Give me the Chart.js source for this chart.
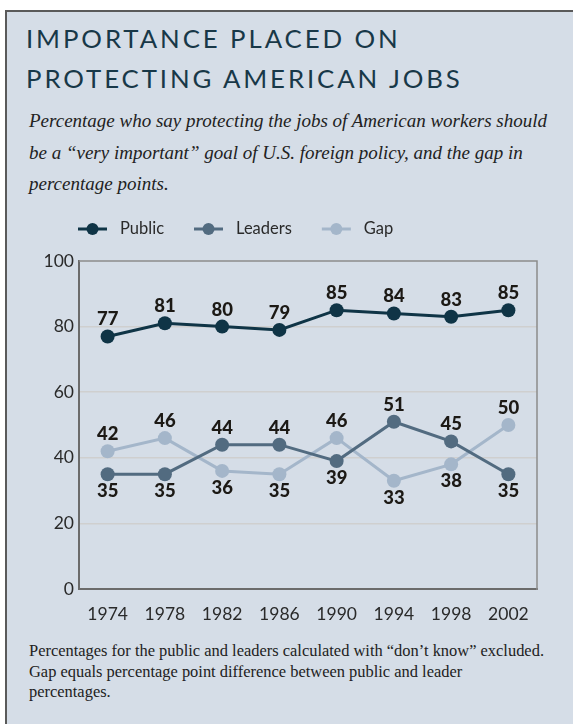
<!DOCTYPE html>
<html>
<head>
<meta charset="utf-8">
<script src="https://cdn.jsdelivr.net/npm/chart.js@4.4.1/dist/chart.umd.min.js"></script>
<style>
  html, body { margin: 0; padding: 0; background: #fff; width: 573px; height: 724px; overflow: hidden; }
  #frame { position: absolute; left: 5px; top: 10px; width: 580px; height: 730px; background: #d5dde7;
           border-top: 2px solid #5a5a5a; border-left: 2px solid #5a5a5a; }
  .title { position: absolute; left: 26px; top: 18px; font-family: Lato, sans-serif; font-weight: 400;
           font-size: 25.8px; letter-spacing: 2.9px; line-height: 40px; color: #183848; white-space: nowrap; }
  .sub { position: absolute; left: 29px; top: 105px; width: 540px; font-family: "Liberation Serif", serif;
         font-style: italic; font-size: 19px; line-height: 31.5px; color: #222; }
  .note { position: absolute; left: 29px; top: 641px; width: 540px; font-family: "Liberation Serif", serif;
          font-size: 16.45px; line-height: 20.5px; color: #222; white-space: nowrap; }
  #wrap { position: absolute; left: 0; top: 205px; width: 573px; height: 425px; }
</style>
</head>
<body>
<div id="frame"></div>
<div class="title">IMPORTANCE PLACED ON<br>PROTECTING AMERICAN JOBS</div>
<div class="sub">Percentage who say protecting the jobs of American workers should be a “very important” goal of U.S. foreign policy, and the gap in percentage points.</div>
<div class="note">Percentages for the public and leaders calculated with “don’t know” excluded.<br>Gap equals percentage point difference between public and leader<br>percentages.</div>
<div id="wrap"><canvas id="chart" width="573" height="425"></canvas></div>

<script>
"use strict";

// values
const years      = ["1974", "1978", "1982", "1986", "1990", "1994", "1998", "2002"];
const publicPct  = [77, 81, 80, 79, 85, 84, 83, 85];
const leadersPct = [35, 35, 44, 44, 39, 51, 45, 35];
const gapPts     = [42, 46, 36, 35, 46, 33, 38, 50];
const seriesNames = ["Public", "Leaders", "Gap"];

const C = {
  pub:   "#0f3446",
  lead:  "#526b80",
  gap:   "#a4b6ca",
  grid:  "#cfcfcf",
  axis:  "#6b6b6b",
  frame: "#8c8c8c",
  text:  "#2a2a2a",
  label: "#1c1915",
};

const SANS = "Lato, 'Open Sans', sans-serif";

// Public labels sit above; for the two lower lines the larger one goes above
function valueLabels() {
  return {
    id: "valueLabels",
    afterDatasetsDraw(chart) {
      const ctx = chart.ctx;
      ctx.save();
      ctx.font = `900 18.5px ${SANS}`;
      ctx.fillStyle = C.label;
      ctx.textAlign = "center";
      ctx.textBaseline = "middle";
      chart.data.datasets.forEach((ds, di) => {
        const meta = chart.getDatasetMeta(di);
        meta.data.forEach((pt, i) => {
          let above = true;
          if (ds.rival) above = ds.data[i] > ds.rival[i];
          ctx.fillText(String(ds.data[i]), pt.x, pt.y + (above ? -17 : 17));
        });
      });
      ctx.restore();
    },
  };
}

// top and right edges of the plot box
function plotFrame() {
  return {
    id: "plotFrame",
    afterDraw(chart) {
      const { ctx, chartArea: a } = chart;
      ctx.save();
      ctx.strokeStyle = C.frame;
      ctx.lineWidth = 1.5;
      ctx.beginPath();
      ctx.moveTo(a.left, a.top);
      ctx.lineTo(a.right, a.top);
      ctx.lineTo(a.right, a.bottom + 1);
      ctx.stroke();
      ctx.restore();
    },
  };
}

// legend: short line with a dot, then the name
function lineLegend() {
  return {
    id: "lineLegend",
    afterDraw(chart) {
      const ctx = chart.ctx;
      ctx.save();
      ctx.font = `16.5px ${SANS}`;
      ctx.textBaseline = "middle";
      let x = 78;
      const y = 24;
      chart.data.datasets.forEach((ds) => {
        ctx.strokeStyle = ds.borderColor;
        ctx.fillStyle = ds.borderColor;
        ctx.lineWidth = 3;
        ctx.beginPath();
        ctx.moveTo(x, y);
        ctx.lineTo(x + 29, y);
        ctx.stroke();
        ctx.beginPath();
        ctx.arc(x + 14.5, y, 6, 0, Math.PI * 2);
        ctx.fill();
        ctx.fillStyle = C.text;
        ctx.fillText(ds.label, x + 42, y);
        x += 42 + ctx.measureText(ds.label).width + 30;
      });
      ctx.restore();
    },
  };
}

function series(label, data, color, rival) {
  return {
    label, data, rival,
    borderColor: color,
    backgroundColor: color,
    pointBackgroundColor: color,
    pointBorderWidth: 0,
    pointRadius: 7,
    borderWidth: 3,
    tension: 0,
  };
}

new Chart(document.getElementById("chart"), {
  type: "line",
  data: {
    labels: years,
    datasets: [
      series(seriesNames[0], publicPct, C.pub),
      series(seriesNames[1], leadersPct, C.lead, gapPts),
      series(seriesNames[2], gapPts, C.gap, leadersPct),
    ],
  },
  options: {
    responsive: false,
    animation: false,
    layout: { padding: { top: 56, right: 36, left: 0, bottom: 0 } },
    plugins: { legend: { display: false }, tooltip: { enabled: false } },
    scales: {
      x: {
        offset: true,
        grid: { display: false },
        border: { color: C.axis, width: 2 },
        ticks: { font: { family: SANS, size: 17.5 }, color: C.text, padding: 7, maxRotation: 0 },
        afterFit: (s) => { s.height = 41; },
      },
      y: {
        min: 0,
        max: 100,
        grid: {
          color: (c) => (c.tick && c.tick.value === 100 ? "rgba(0,0,0,0)" : C.grid),
          lineWidth: 1.5,
          drawTicks: false,
        },
        border: { color: C.axis, width: 2 },
        ticks: { stepSize: 20, font: { family: SANS, size: 17.5 }, color: C.text, padding: 5 },
        afterFit: (s) => { s.width = 79; },
      },
    },
  },
  plugins: [valueLabels(), plotFrame(), lineLegend()],
});
</script>
</body>
</html>
